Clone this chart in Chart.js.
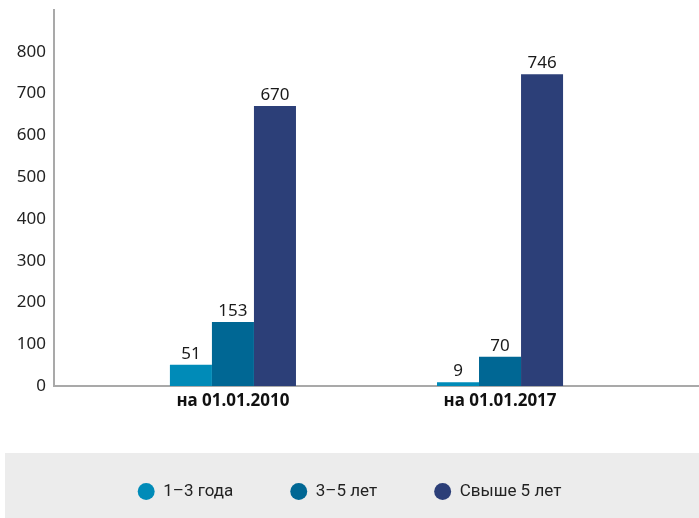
<!DOCTYPE html>
<html>
<head>
<meta charset="utf-8">
<script src="https://cdn.jsdelivr.net/npm/chart.js@4/dist/chart.umd.min.js"></script>
<style>
  html, body { margin: 0; padding: 0; background: #fff; }
  #wrap { width: 699px; height: 518px; }
</style>
</head>
<body>
<div id="wrap"><canvas id="chart" width="699" height="518"></canvas></div>
<script>
  const categories = ['на 01.01.2010', 'на 01.01.2017'];
  const seriesNames = ['1–3 года', '3–5 лет', 'Свыше 5 лет'];
  const years1to3 = [51, 9];
  const years3to5 = [153, 70];
  const yearsOver5 = [670, 746];
  const yTicks = [0, 100, 200, 300, 400, 500, 600, 700, 800];

  const colors = ['#008bb8', '#006794', '#2c3f78'];
  const axisGray = '#a9a9a9';

  function toPoints(values) {
    return values.map((v, i) => ({ x: i, y: v }));
  }

  // value labels over every bar
  const valueLabels = {
    id: 'valueLabels',
    afterDatasetsDraw(chart) {
      const ctx = chart.ctx;
      ctx.save();
      ctx.font = '17px "Noto Sans", sans-serif';
      ctx.fillStyle = '#1a1a1a';
      ctx.textAlign = 'center';
      ctx.textBaseline = 'alphabetic';
      chart.data.datasets.forEach((ds, di) => {
        chart.getDatasetMeta(di).data.forEach((bar, i) => {
          ctx.fillText(String(ds.data[i].y), bar.x, bar.y - 6);
        });
      });
      ctx.restore();
    }
  };

  // grey band behind the legend
  const legendBand = {
    id: 'legendBand',
    beforeDraw(chart) {
      const ctx = chart.ctx;
      ctx.save();
      ctx.fillStyle = '#ececec';
      ctx.fillRect(5, 453, chart.width - 5, chart.height - 453);
      ctx.restore();
    }
  };

  new Chart(document.getElementById('chart'), {
    type: 'bar',
    data: {
      datasets: [
        { label: seriesNames[0], data: toPoints(years1to3), backgroundColor: colors[0] },
        { label: seriesNames[1], data: toPoints(years3to5), backgroundColor: colors[1] },
        { label: seriesNames[2], data: toPoints(yearsOver5), backgroundColor: colors[2] }
      ]
    },
    options: {
      responsive: false,
      animation: false,
      layout: { padding: { top: 10, left: 0, right: 0, bottom: 8 } },
      datasets: { bar: { categoryPercentage: 0.472, barPercentage: 1 } },
      scales: {
        x: {
          type: 'linear',
          offset: false,
          min: -0.67,
          max: 1.745,
          grid: { display: false, drawTicks: false },
          border: { display: true, color: axisGray, width: 2 },
          afterBuildTicks(axis) { axis.ticks = categories.map((c, i) => ({ value: i })); },
          afterFit(axis) { axis.height = 40; axis.paddingLeft = 0; axis.paddingRight = 0; },
          ticks: {
            padding: 5,
            color: '#111',
            font: { family: '"Noto Sans", sans-serif', size: 17, weight: 'bold' },
            callback: (v) => categories[v]
          }
        },
        y: {
          min: 0,
          max: 900,
          grid: { display: false, drawTicks: false },
          border: { display: true, color: axisGray, width: 2 },
          afterBuildTicks(axis) { axis.ticks = yTicks.map(v => ({ value: v })); },
          afterFit(axis) { axis.width = 54; axis.paddingTop = 0; axis.paddingBottom = 0; },
          ticks: {
            padding: 8,
            color: '#222',
            font: { family: '"Noto Sans", sans-serif', size: 17 }
          }
        }
      },
      plugins: {
        tooltip: { enabled: false },
        legend: {
          position: 'bottom',
          labels: {
            usePointStyle: true,
            pointStyle: 'circle',
            boxHeight: 12,
            padding: 57,
            color: '#222',
            font: { family: 'Roboto, sans-serif', size: 17 }
          }
        }
      }
    },
    plugins: [legendBand, valueLabels]
  });
</script>
</body>
</html>
